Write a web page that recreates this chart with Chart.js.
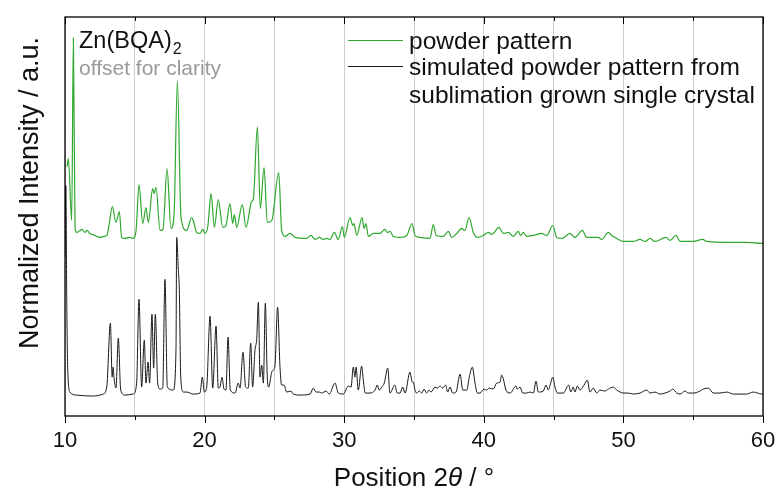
<!DOCTYPE html>
<html>
<head>
<meta charset="utf-8">
<script src="https://cdn.jsdelivr.net/npm/chart.js@4.4.1/dist/chart.umd.min.js"></script>
<style>
  html, body { margin: 0; padding: 0; background: #fff; }
  #wrap { width: 778px; height: 496px; }
</style>
</head>
<body>
<div id="wrap"><canvas id="xrd" width="778" height="496"></canvas></div>
<script>
// powder pattern (offset for clarity)
const twoThetaPowder = [10.15, 10.24, 10.48, 10.60, 10.72, 10.85, 11.07, 11.22, 11.43, 11.58, 11.79, 12.15, 12.50, 12.79, 13.00, 13.15, 13.39, 13.65, 13.89, 14.06, 14.30, 14.66, 14.87, 15.09, 15.30, 15.57, 15.80, 15.97, 16.28, 16.38, 16.52, 16.81, 17.02, 17.31, 17.59, 17.81, 18.05, 18.31, 18.72, 19.07, 19.19, 19.43, 19.67, 19.86, 20.03, 20.24, 20.46, 20.70, 20.98, 21.30, 21.53, 21.82, 22.01, 22.13, 22.30, 22.70, 22.97, 23.37, 23.49, 23.78, 23.99, 24.26, 24.49, 24.81, 25.31, 25.52, 25.76, 26.12, 26.48, 27.31, 27.62, 27.91, 28.22, 28.50, 28.75, 28.98, 29.29, 29.58, 29.87, 30.01, 30.42, 30.61, 30.70, 30.90, 31.28, 31.42, 31.56, 31.73, 32.08, 32.56, 32.92, 33.09, 33.28, 33.52, 34.00, 34.48, 34.86, 35.07, 35.43, 36.15, 36.38, 36.58, 37.10, 37.46, 37.70, 38.06, 38.42, 38.65, 38.94, 39.25, 39.54, 39.97, 40.32, 40.57, 41.09, 41.40, 41.76, 42.11, 42.47, 42.64, 42.83, 43.07, 43.55, 44.15, 44.51, 44.94, 45.22, 45.58, 46.17, 46.53, 47.06, 47.37, 48.20, 48.45, 48.92, 49.16, 49.52, 49.99, 50.71, 51.19, 51.55, 51.91, 52.26, 53.05, 53.34, 53.77, 54.06, 55.01, 55.68, 55.97, 57.64, 58.83, 59.91, 60.00];
const intensityPowder = [250, 258, 196, 379, 188, 184, 186, 187, 184, 186, 183, 181, 179, 180, 181, 191, 210, 194, 205, 179, 178, 179, 178, 186, 232, 193, 209, 194, 228, 223, 229, 186, 187, 248, 188, 201, 336, 199, 186, 199, 196, 184, 183, 187, 183, 191, 223, 189, 217, 189, 191, 213, 193, 202, 189, 212, 189, 215, 217, 290, 208, 249, 194, 196, 244, 186, 180, 183, 179, 178, 181, 177, 179, 177, 178, 177, 184, 177, 190, 179, 199, 191, 193, 181, 199, 188, 193, 180, 183, 183, 187, 184, 185, 180, 179, 181, 193, 181, 179, 178, 192, 181, 180, 185, 179, 183, 188, 186, 199, 184, 179, 181, 184, 182, 189, 183, 184, 180, 185, 181, 184, 180, 181, 183, 181, 191, 179, 178, 183, 179, 186, 179, 179, 177, 184, 181, 178, 175, 175, 177, 175, 178, 175, 179, 176, 181, 175, 175, 177, 175, 174, 174, 173, 173];

// simulated pattern from the single crystal
const twoThetaSim = [10.00, 10.06, 10.13, 10.20, 10.36, 10.80, 12.00, 12.74, 12.99, 13.25, 13.38, 13.44, 13.53, 13.65, 13.82, 13.99, 14.30, 14.89, 15.13, 15.30, 15.49, 15.68, 15.80, 15.95, 16.06, 16.23, 16.35, 16.47, 16.64, 16.81, 17.00, 17.16, 17.33, 17.76, 17.95, 18.00, 18.12, 18.19, 18.29, 18.48, 18.72, 19.19, 19.67, 19.84, 19.98, 20.15, 20.39, 20.58, 20.82, 20.98, 21.10, 21.25, 21.39, 21.53, 21.68, 21.84, 22.18, 22.41, 22.54, 22.75, 22.94, 23.13, 23.30, 23.44, 23.61, 23.73, 23.85, 23.97, 24.09, 24.21, 24.35, 24.49, 24.59, 24.81, 24.92, 25.04, 25.23, 25.40, 25.52, 25.69, 25.88, 26.19, 26.35, 26.83, 27.55, 27.79, 27.98, 28.22, 28.39, 28.70, 28.93, 29.34, 29.58, 29.94, 30.29, 30.49, 30.65, 30.77, 30.85, 31.01, 31.25, 31.37, 31.51, 31.85, 32.21, 32.37, 32.51, 32.69, 32.87, 33.12, 33.28, 33.62, 33.80, 34.00, 34.19, 34.36, 34.71, 34.88, 34.95, 35.07, 35.19, 35.38, 35.55, 35.72, 35.91, 36.07, 36.22, 36.50, 36.67, 36.86, 37.06, 37.27, 37.41, 37.58, 37.77, 38.01, 38.30, 38.49, 38.78, 38.96, 39.18, 39.37, 39.54, 39.73, 40.01, 40.21, 40.39, 40.68, 40.92, 41.16, 41.28, 41.40, 41.59, 41.88, 42.31, 42.40, 42.59, 42.79, 43.07, 43.31, 43.55, 43.74, 43.91, 44.26, 44.46, 44.62, 44.79, 44.94, 45.10, 45.27, 45.70, 46.08, 46.23, 46.41, 46.53, 46.70, 46.89, 47.18, 47.41, 47.61, 47.84, 48.09, 48.32, 48.68, 48.92, 49.28, 49.52, 49.76, 49.99, 50.35, 50.71, 51.19, 51.67, 51.91, 52.26, 52.62, 52.98, 53.34, 53.53, 53.82, 54.06, 54.41, 54.65, 55.01, 55.49, 55.72, 56.08, 56.44, 56.92, 57.40, 57.87, 58.83, 59.31, 59.91, 60.00];
const intensitySim = [160, 231, 110, 45, 24, 21, 20, 22, 29, 93, 39, 49, 36, 28, 78, 26, 21, 22, 33, 117, 29, 76, 33, 54, 33, 102, 48, 102, 33, 27, 28, 137, 29, 26, 66, 179, 146, 126, 39, 24, 24, 22, 23, 39, 24, 29, 100, 28, 90, 28, 29, 39, 27, 26, 79, 26, 23, 33, 28, 64, 29, 28, 73, 29, 66, 77, 114, 39, 51, 33, 113, 39, 29, 44, 46, 50, 109, 49, 31, 31, 24, 25, 22, 21, 22, 28, 24, 24, 23, 25, 22, 33, 23, 22, 30, 29, 49, 39, 49, 26, 50, 36, 23, 23, 26, 31, 26, 29, 33, 48, 23, 31, 23, 23, 29, 23, 44, 34, 34, 26, 23, 25, 23, 27, 23, 26, 24, 29, 28, 30, 28, 31, 24, 29, 23, 24, 42, 26, 26, 39, 49, 33, 23, 23, 27, 26, 28, 27, 33, 34, 41, 37, 26, 23, 30, 27, 29, 23, 23, 24, 23, 35, 24, 25, 31, 26, 33, 39, 29, 23, 23, 31, 24, 29, 24, 30, 26, 31, 36, 24, 28, 23, 26, 25, 27, 29, 26, 24, 23, 23, 22, 23, 26, 23, 24, 22, 23, 25, 27, 23, 22, 25, 23, 23, 25, 27, 28, 23, 23, 24, 22, 22, 24, 22, 22];

const xTicks = [10, 20, 30, 40, 50, 60];
const seriesLabels = ['powder pattern', 'simulated powder pattern from\nsublimation grown single crystal'];

const FONT = 'Arial, "Liberation Sans", sans-serif';
const green = '#2fa82f';
const black = '#1a1a1a';

function toPoints(xs, ys) {
    return xs.map((x, i) => ({ x: x, y: ys[i] }));
}

// frame, ticks, legend and the extra texts
const decorations = {
    id: 'decorations',
    afterDraw(chart) {
        const ctx = chart.ctx;
        const area = chart.chartArea;
        const xs = chart.scales.x;
        ctx.save();

        // ticks: outward at the bottom, inward at the top
        ctx.strokeStyle = '#000';
        ctx.lineWidth = 1;
        for (let v = 10; v <= 60; v += 5) {
            const px = Math.round(xs.getPixelForValue(v)) + 0.5;
            const len = v % 10 === 0 ? 7 : 4;
            ctx.beginPath();
            ctx.moveTo(px, area.bottom);
            ctx.lineTo(px, area.bottom + len);
            ctx.moveTo(px, area.top);
            ctx.lineTo(px, area.top + len);
            ctx.stroke();
        }

        // frame
        ctx.lineWidth = 1.3;
        ctx.strokeRect(area.left, area.top, area.right - area.left, area.bottom - area.top);

        // axis titles
        ctx.fillStyle = '#111';
        ctx.textBaseline = 'alphabetic';
        const p1 = 'Position 2', p2 = '\u03b8', p3 = ' / \u00b0';
        ctx.font = '26px ' + FONT;
        const w1 = ctx.measureText(p1).width;
        const w3 = ctx.measureText(p3).width;
        ctx.font = 'italic 26px ' + FONT;
        const w2 = ctx.measureText(p2).width;
        const tx = (area.left + area.right) / 2 - (w1 + w2 + w3) / 2;
        const ty = 486;
        ctx.font = '26px ' + FONT;
        ctx.fillText(p1, tx, ty);
        ctx.font = 'italic 26px ' + FONT;
        ctx.fillText(p2, tx + w1, ty);
        ctx.font = '26px ' + FONT;
        ctx.fillText(p3, tx + w1 + w2, ty);

        ctx.save();
        ctx.translate(38, 193);
        ctx.rotate(-Math.PI / 2);
        ctx.textAlign = 'center';
        ctx.font = '27px ' + FONT;
        ctx.fillText('Normalized Intensity / a.u.', 0, 0);
        ctx.restore();

        // compound name and note
        ctx.textAlign = 'left';
        ctx.font = '23.5px ' + FONT;
        ctx.fillText('Zn(BQA)', 79, 48);
        const wz = ctx.measureText('Zn(BQA)').width;
        ctx.font = '16px ' + FONT;
        ctx.fillText('2', 79 + wz + 1, 54);
        ctx.fillStyle = '#999';
        ctx.font = '21px ' + FONT;
        ctx.fillText('offset for clarity', 79, 75);

        // legend
        const lx0 = 348, lx1 = 403, textX = 409;
        const rows = [
            { color: green, lines: seriesLabels[0].split('\n'), base: 49 },
            { color: black, lines: seriesLabels[1].split('\n'), base: 75 }
        ];
        ctx.font = '24.5px ' + FONT;
        rows.forEach(r => {
            ctx.strokeStyle = r.color;
            ctx.lineWidth = 1.2;
            ctx.beginPath();
            ctx.moveTo(lx0, r.base - 8.5);
            ctx.lineTo(lx1, r.base - 8.5);
            ctx.stroke();
            ctx.fillStyle = '#111';
            r.lines.forEach((t, i) => ctx.fillText(t, textX, r.base + i * 28));
        });

        ctx.restore();
    }
};

new Chart(document.getElementById('xrd'), {
    type: 'line',
    data: {
        datasets: [
            {
                label: seriesLabels[1],
                data: toPoints(twoThetaSim, intensitySim),
                borderColor: black,
                borderWidth: 1,
                pointRadius: 0,
                cubicInterpolationMode: 'monotone',
                fill: false
            },
            {
                label: seriesLabels[0],
                data: toPoints(twoThetaPowder, intensityPowder),
                borderColor: green,
                borderWidth: 1.2,
                pointRadius: 0,
                cubicInterpolationMode: 'monotone',
                fill: false
            }
        ]
    },
    options: {
        responsive: false,
        animation: false,
        devicePixelRatio: 1,
        layout: { padding: { left: 65, right: 15, top: 17, bottom: 0 } },
        plugins: {
            legend: { display: false },
            tooltip: { enabled: false }
        },
        scales: {
            x: {
                type: 'linear',
                min: 10,
                max: 60,
                afterFit(scale) {
                    scale.height = 80;
                    scale.paddingLeft = 0;
                    scale.paddingRight = 0;
                },
                afterBuildTicks(scale) {
                    const t = [];
                    for (let v = 10; v <= 60; v += 5) t.push({ value: v });
                    scale.ticks = t;
                },
                ticks: {
                    autoSkip: false,
                    maxRotation: 0,
                    padding: 12,
                    color: '#111',
                    font: { family: FONT, size: 22 },
                    callback: v => xTicks.includes(v) ? String(v) : ''
                },
                grid: {
                    drawTicks: false,
                    color: '#cfcfcf',
                    lineWidth: 1
                },
                border: { display: false }
            },
            y: {
                display: false,
                min: 0,
                max: 400
            }
        }
    },
    plugins: [decorations]
});
</script>
</body>
</html>
